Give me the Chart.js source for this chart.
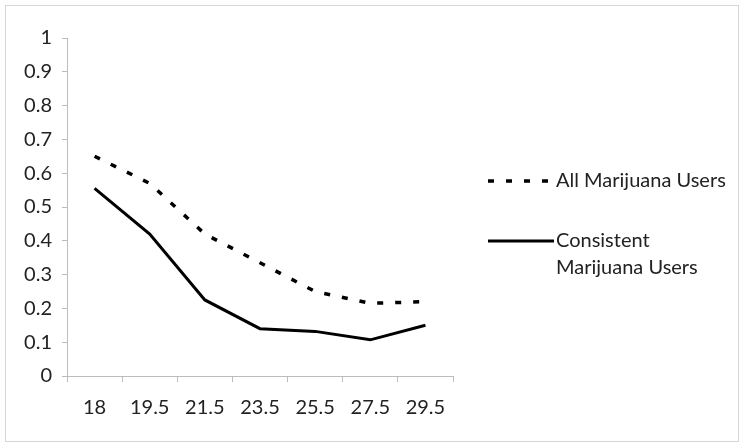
<!DOCTYPE html>
<html>
<head>
<meta charset="utf-8">
<script src="https://cdn.jsdelivr.net/npm/chart.js@4/dist/chart.umd.min.js"></script>
<style>
    html, body { margin: 0; padding: 0; background: #fff; }
    #wrap { position: relative; width: 745px; height: 448px; }
    #frame { position: absolute; left: 5px; top: 5px; width: 732px; height: 435px; border: 1.5px solid #d6d6d6; pointer-events: none; }
</style>
</head>
<body>
<div id="wrap">
    <canvas id="chart" width="745" height="448"></canvas>
    <div id="frame"></div>
</div>
<script>
// age categories and the two series
const ages = ['18', '19.5', '21.5', '23.5', '25.5', '27.5', '29.5'];
const allUsers = [0.65, 0.57, 0.42, 0.335, 0.25, 0.215, 0.22];
const consistentUsers = [0.555, 0.42, 0.225, 0.14, 0.132, 0.107, 0.15];
const seriesNames = [['All Marijuana Users'], ['Consistent', 'Marijuana Users']];
const Y_MIN = 0, Y_MAX = 1, Y_STEP = 0.1;

const FONT = 'Lato, "Open Sans", sans-serif';
const FONT_SIZE = 20;
const AXIS_GREY = '#bcbcbc';

// draws the legend on the right, keeps each entry's line style
const sideLegend = {
    id: 'sideLegend',
    afterDraw(chart) {
        const ctx = chart.ctx;
        const rows = [181, 241];
        ctx.save();
        chart.data.datasets.forEach((ds, i) => {
            const y = rows[i];
            ctx.beginPath();
            ctx.strokeStyle = ds.borderColor;
            ctx.lineWidth = ds.borderWidth;
            ctx.setLineDash(ds.borderDash || []);
            ctx.moveTo(488, y);
            ctx.lineTo(554, y);
            ctx.stroke();
            ctx.setLineDash([]);
            ctx.fillStyle = '#222';
            ctx.font = FONT_SIZE + 'px ' + FONT;
            ctx.textBaseline = 'middle';
            seriesNames[i].forEach((line, j) => ctx.fillText(line, 556, y + j * 27));
        });
        ctx.restore();
    }
};

new Chart(document.getElementById('chart'), {
    type: 'line',
    data: {
        labels: ages,
        datasets: [
            {
                label: seriesNames[0].join(' '),
                data: allUsers,
                borderColor: '#000',
                borderWidth: 3.5,
                borderDash: [6, 12],
                pointRadius: 0,
                tension: 0,
                fill: false
            },
            {
                label: seriesNames[1].join(' '),
                data: consistentUsers,
                borderColor: '#000',
                borderWidth: 3,
                pointRadius: 0,
                tension: 0,
                fill: false
            }
        ]
    },
    options: {
        responsive: false,
        animation: false,
        layout: { padding: { left: 0, right: 292, top: 38, bottom: 20 } },
        scales: {
            x: {
                offset: true,
                grid: { offset: true, drawOnChartArea: false, drawTicks: true, tickLength: 6, color: AXIS_GREY },
                border: { color: AXIS_GREY, width: 1 },
                ticks: { color: '#222', font: { family: FONT, size: FONT_SIZE }, padding: 14, maxRotation: 0 },
                afterFit(scale) { scale.height = 52; }
            },
            y: {
                min: Y_MIN,
                max: Y_MAX,
                grid: { drawOnChartArea: false, drawTicks: true, tickLength: 5, color: AXIS_GREY },
                border: { color: AXIS_GREY, width: 1 },
                ticks: {
                    stepSize: Y_STEP,
                    color: '#222',
                    font: { family: FONT, size: FONT_SIZE },
                    padding: 10,
                    callback: v => String(+v.toFixed(1))
                },
                afterFit(scale) { scale.width = 67; }
            }
        },
        plugins: { legend: { display: false }, tooltip: { enabled: false } }
    },
    plugins: [sideLegend]
});
</script>
</body>
</html>
